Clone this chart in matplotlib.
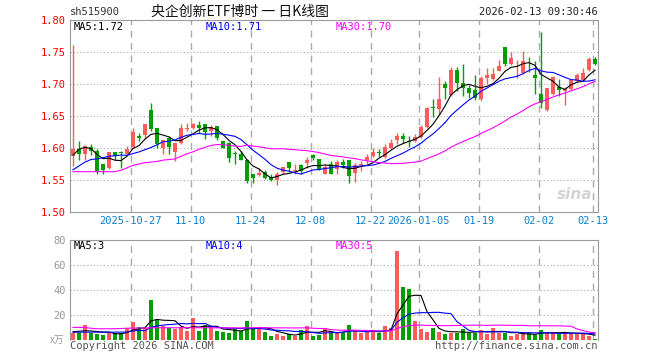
import numpy as np
import pandas as pd
import matplotlib
matplotlib.use("Agg")
import matplotlib.pyplot as plt

plt.rcParams['font.family'] = ['DejaVu Sans Mono', 'Noto Sans CJK SC']

# ------------------------------
# data
# ------------------------------
dates = pd.bdate_range("2025-10-13", "2026-02-13")
dates = dates[~dates.isin(pd.to_datetime(["2026-01-01", "2026-01-02"]))]

opens = [1.5875, 1.598, 1.590, 1.602, 1.595, 1.5755, 1.568, 1.593, 1.594, 1.590,
         1.6015, 1.618, 1.621, 1.660, 1.632, 1.5995, 1.615, 1.593, 1.608, 1.630,
         1.631, 1.6355, 1.638, 1.6265, 1.634, 1.611, 1.608, 1.592, 1.590, 1.582,
         1.560, 1.5575, 1.563, 1.555, 1.5495, 1.5625, 1.578, 1.5645, 1.5735, 1.577,
         1.5885, 1.5823, 1.560, 1.5755, 1.5677, 1.5787, 1.581, 1.5615, 1.5729, 1.5807,
         1.5875, 1.593, 1.586, 1.6005, 1.612, 1.6187, 1.6115, 1.611, 1.6172, 1.6328,
         1.6635, 1.6604, 1.7005, 1.6828, 1.7214, 1.702, 1.6943, 1.690, 1.676, 1.7099,
         1.7073, 1.7203, 1.7578, 1.7318, 1.7213, 1.7177, 1.738, 1.714, 1.685, 1.6593,
         1.6844, 1.6958, 1.689, 1.6917, 1.7047, 1.7057, 1.7214, 1.7396]
highs = [1.761, 1.611, 1.605, 1.607, 1.598, 1.5755, 1.593, 1.593, 1.595, 1.603,
         1.632, 1.624, 1.638, 1.671, 1.632, 1.612, 1.619, 1.608, 1.638, 1.6385,
         1.6395, 1.642, 1.638, 1.6355, 1.635, 1.611, 1.609, 1.595, 1.596, 1.583,
         1.560, 1.569, 1.565, 1.559, 1.562, 1.5705, 1.578, 1.5755, 1.5755, 1.586,
         1.591, 1.5823, 1.5745, 1.5797, 1.5807, 1.5823, 1.582, 1.577, 1.5797, 1.591,
         1.5995, 1.598, 1.6057, 1.6135, 1.624, 1.624, 1.6187, 1.6213, 1.6354, 1.6646,
         1.676, 1.711, 1.7047, 1.7266, 1.7266, 1.7318, 1.6984, 1.714, 1.7125, 1.7255,
         1.7245, 1.7375, 1.7578, 1.7505, 1.737, 1.7516, 1.742, 1.736, 1.7818, 1.6936,
         1.7125, 1.7073, 1.6953, 1.7073, 1.7177, 1.7255, 1.7422, 1.7422]
lows = [1.572, 1.582, 1.582, 1.589, 1.559, 1.559, 1.567, 1.582, 1.569, 1.589,
        1.601, 1.611, 1.6135, 1.627, 1.600, 1.591, 1.590, 1.580, 1.6055, 1.6265,
        1.630, 1.624, 1.6135, 1.619, 1.612, 1.5995, 1.5785, 1.5755, 1.581, 1.546,
        1.546, 1.557, 1.552, 1.5485, 1.542, 1.560, 1.563, 1.560, 1.560, 1.569,
        1.581, 1.565, 1.559, 1.559, 1.559, 1.569, 1.546, 1.5474, 1.564, 1.5745,
        1.586, 1.586, 1.585, 1.598, 1.6057, 1.608, 1.602, 1.6094, 1.6161, 1.6307,
        1.6484, 1.6516, 1.676, 1.6818, 1.689, 1.6812, 1.6776, 1.6745, 1.6734, 1.6995,
        1.7057, 1.720, 1.7276, 1.7302, 1.710, 1.716, 1.7187, 1.6839, 1.663, 1.658,
        1.683, 1.6812, 1.6672, 1.690, 1.703, 1.7047, 1.7203, 1.7297]
closes = [1.598, 1.590, 1.603, 1.595, 1.564, 1.565, 1.593, 1.5875, 1.592, 1.598,
          1.6255, 1.616, 1.638, 1.629, 1.606, 1.612, 1.6015, 1.608, 1.632, 1.631,
          1.638, 1.631, 1.6255, 1.6335, 1.615, 1.6005, 1.585, 1.591, 1.582, 1.549,
          1.5525, 1.5615, 1.5535, 1.5495, 1.560, 1.570, 1.568, 1.5655, 1.564, 1.5812,
          1.584, 1.5677, 1.5703, 1.560, 1.578, 1.573, 1.557, 1.5735, 1.5745, 1.5865,
          1.5937, 1.592, 1.6016, 1.6083, 1.6187, 1.6135, 1.610, 1.6177, 1.6333, 1.663,
          1.662, 1.676, 1.6932, 1.7214, 1.7021, 1.6943, 1.6865, 1.6776, 1.7099, 1.714,
          1.715, 1.7281, 1.7318, 1.7411, 1.7214, 1.736, 1.737, 1.710, 1.6708, 1.6936,
          1.711, 1.6901, 1.6927, 1.7063, 1.714, 1.7177, 1.7396, 1.7307]
volumes = [5.9, 5.3, 12.0, 5.9, 4.8, 4.0, 5.3, 5.3, 5.3, 9.9,
           14.4, 10.1, 9.9, 32.0, 16.0, 11.2, 9.3, 8.5, 10.7, 7.2,
           17.9, 7.5, 12.0, 10.1, 7.5, 6.7, 5.9, 8.5, 7.2, 15.5,
           8.5, 10.7, 6.7, 3.5, 4.8, 3.5, 4.5, 3.5, 8.0, 11.5,
           3.5, 4.0, 9.9, 5.3, 5.9, 5.9, 12.0, 7.2, 5.3, 6.7,
           7.2, 5.9, 11.2, 9.3, 71.2, 42.4, 40.8, 15.2, 8.8, 6.4,
           9.6, 6.4, 4.8, 5.9, 5.9, 8.8, 5.3, 5.9, 8.0, 4.8,
           9.6, 5.9, 5.9, 3.2, 4.8, 5.3, 5.3, 4.0, 8.0, 5.9,
           5.9, 5.3, 5.3, 5.3, 5.0, 4.8, 3.2, 0.8]

# moving averages before the window is full (history not shown on chart)
ma5_head = [1.589, 1.598, 1.601, 1.599]
ma10_head = [1.566, 1.572, 1.578, 1.582, 1.583, 1.585, 1.587, 1.588, 1.589]
ma30_head = [1.563, 1.563, 1.563, 1.563, 1.563, 1.563, 1.563, 1.563, 1.565, 1.569,
             1.573, 1.575, 1.577, 1.578, 1.579, 1.581, 1.582, 1.583, 1.587, 1.591,
             1.594, 1.598, 1.601, 1.604, 1.6055, 1.605, 1.604, 1.603, 1.6025]
vma5_head = [6.6, 7.0, 7.4, 7.2]
vma10_head = [6.2, 6.2, 6.3, 6.3, 6.3, 6.2, 6.2, 6.3, 6.3]
vma30_head = [10.1, 10.1, 10.0, 9.4, 9.0, 9.0, 9.0, 9.0, 9.2, 9.4,
              9.5, 9.6, 9.6, 9.8, 9.8, 9.8, 9.8, 9.8, 9.8, 9.8,
              9.8, 9.8, 9.8, 9.8, 9.7, 9.7, 9.7, 9.7, 9.7]

tick_dates = ["2025-10-27", "2025-11-10", "2025-11-24", "2025-12-08", "2025-12-22",
              "2026-01-05", "2026-01-19", "2026-02-02", "2026-02-13"]
tick_labels = ["2025-10-27", "11-10", "11-24", "12-08", "12-22",
               "2026-01-05", "01-19", "02-02", "02-13"]

# ------------------------------
# prepare
# ------------------------------
df = pd.DataFrame({"open": opens, "high": highs, "low": lows,
                   "close": closes, "vol": volumes}, index=dates)


def moving_avg(s, n, head):
    m = s.rolling(n).mean().to_numpy()
    m[:n - 1] = head
    return m


ma5 = moving_avg(df["close"], 5, ma5_head)
ma10 = moving_avg(df["close"], 10, ma10_head)
ma30 = moving_avg(df["close"], 30, ma30_head)
vma5 = moving_avg(df["vol"], 5, vma5_head)
vma10 = moving_avg(df["vol"], 10, vma10_head)
vma30 = moving_avg(df["vol"], 30, vma30_head)

x = np.arange(len(df))
up = df["close"].to_numpy() >= df["open"].to_numpy()
RED, GREEN = "#ff5b5b", "#009f00"
cols = np.where(up, RED, GREEN)
tick_x = [df.index.get_loc(pd.Timestamp(d)) - 0.4 for d in tick_dates]

GRID = "#aaaaaa"
BORDER = "#9a9a9a"
LW = 0.8

# ------------------------------
# figure
# ------------------------------
W, H = 660, 360
fig = plt.figure(figsize=(6.6, 3.6), dpi=100)


def rect(l, t, r, b):
    return [l / W, 1 - b / H, (r - l) / W, (b - t) / H]


def ftext(px, py, s, **kw):
    fig.text(px / W, 1 - py / H, s, va="center", **kw)


ax = fig.add_axes(rect(70, 20, 598, 212))
axv = fig.add_axes(rect(70, 240, 598, 340))

# price panel
for lv in [1.55, 1.60, 1.65, 1.70, 1.75]:
    ax.axhline(lv, color=GRID, ls=(0, (1, 2)), lw=0.8, zorder=0)
for tx in tick_x:
    ax.axvline(tx, color=GRID, ls=(0, (5, 4)), lw=1, zorder=0)

# watermark
ax.text(0.955, 0.09, "sina", transform=ax.transAxes, color="#d4d4d4", fontsize=11,
        style="italic", weight="bold", ha="center", va="center",
        family="DejaVu Sans", zorder=1)

ax.vlines(x, df["low"], df["high"], colors=cols, lw=1, zorder=2)
body_lo = np.minimum(df["open"], df["close"])
body_h = np.maximum((df["close"] - df["open"]).abs(), 0.0012)
ax.bar(x, body_h, bottom=body_lo, width=0.82, color=cols, lw=0, zorder=3)

ax.plot(x, ma5, color="black", lw=LW, zorder=4)
ax.plot(x, ma10, color="#0000ff", lw=LW, zorder=4)
ax.plot(x, ma30, color="#ff00ff", lw=LW, zorder=4)

ax.set_xlim(-0.5, len(df) - 0.5)
ax.set_ylim(1.50, 1.80)
ax.set_yticks([1.50, 1.55, 1.60, 1.65, 1.70, 1.75, 1.80])
ax.set_yticklabels([f"{v:.2f}" for v in ax.get_yticks()], color="#ff0000", fontsize=7.5)
ax.set_xticks(tick_x)
ax.set_xticklabels(tick_labels, color="#0a7fd0", fontsize=7.5)
ax.tick_params(length=0, pad=3)
for sp in ax.spines.values():
    sp.set_color(BORDER)

# volume panel
for lv in [20, 40, 60]:
    axv.axhline(lv, color=GRID, ls=(0, (1, 2)), lw=0.8, zorder=0)
for tx in tick_x:
    axv.axvline(tx, color=GRID, ls=(0, (5, 4)), lw=1, zorder=0)

axv.bar(x, df["vol"], width=0.82, color=cols, lw=0, zorder=2)
axv.plot(x, vma5, color="black", lw=LW, zorder=3)
axv.plot(x, vma10, color="#0000ff", lw=LW, zorder=3)
axv.plot(x, vma30, color="#ff00ff", lw=LW, zorder=3)

axv.set_xlim(-0.5, len(df) - 0.5)
axv.set_ylim(0, 80)
axv.set_yticks([20, 40, 60, 80])
axv.set_yticklabels(["20", "40", "60", "80"], color="#999999", fontsize=7.5)
axv.set_xticks([])
axv.tick_params(length=0, pad=3)
for sp in axv.spines.values():
    sp.set_color(BORDER)
axv.spines["bottom"].set_visible(False)

# ------------------------------
# texts
# ------------------------------
ftext(70, 12, "sh515900", color="#333333", fontsize=7.5)
ftext(151, 12, "央企创新ETF博时 一 日K线图", color="#111111", fontsize=10,
      family=["Noto Sans CJK SC", "DejaVu Sans"])
ftext(598, 12, "2026-02-13 09:30:46", color="#222222", fontsize=7.5, ha="right")

ftext(74, 27, f"MA5:{ma5[-1]:.2f}", color="black", fontsize=7.5)
ftext(206, 27, f"MA10:{ma10[-1]:.2f}", color="#0000ff", fontsize=7.5)
ftext(336, 27, f"MA30:{ma30[-1]:.2f}", color="#ff00ff", fontsize=7.5)

ftext(74, 246, f"MA5:{int(vma5[-1])}", color="black", fontsize=7.5)
ftext(206, 246, f"MA10:{int(vma10[-1])}", color="#0000ff", fontsize=7.5)
ftext(336, 246, f"MA30:{int(vma30[-1])}", color="#ff00ff", fontsize=7.5)

ftext(64, 340, "x万", color="#999999", fontsize=7, ha="right",
      family=["Noto Sans CJK SC", "DejaVu Sans"])
ftext(70, 346, "Copyright 2026 SINA.COM", color="#555555", fontsize=7.5)
ftext(598, 346, "http://finance.sina.com.cn", color="#555555", fontsize=7.5, ha="right")

fig.savefig("out.png", dpi=100)
